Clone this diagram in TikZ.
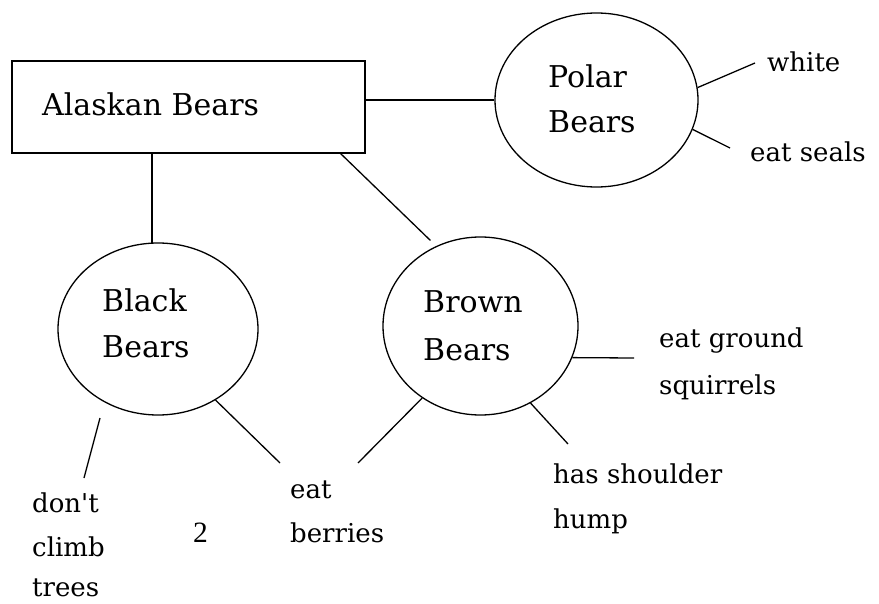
\documentclass[tikz,border=0pt]{standalone}
\usepackage{fontspec}
\setmainfont{DejaVu Serif}
\newfontfamily\timesfont{Liberation Serif}
\usetikzlibrary{shapes.geometric,calc}
\begin{document}
\begin{tikzpicture}[x=1pt,y=-1pt,
  bubble/.style={draw,ellipse,inner sep=0pt,line width=1.3pt},
  boxstyle/.style={draw,rectangle,inner sep=0pt,line width=1.8pt},
  bigtext/.style={anchor=base west,inner sep=0pt,font=\fontsize{30}{35}\selectfont},
  smalltext/.style={anchor=base west,inner sep=0pt,font=\fontsize{26}{30}\selectfont},
  link/.style={line width=1.3pt}]
\useasboundingbox (0,0) rectangle (879,604);
\fill[white] (0,0) rectangle (879,604);
% main nodes
\node[boxstyle,minimum width=353pt,minimum height=92pt] (alaskan) at (188.5,107) {};
\node[bigtext] (alaskantxt) at (42,116) {Alaskan Bears};
\node[bubble,minimum width=203pt,minimum height=174pt] (polar) at (596.5,100) {};
\node[bigtext] (polar1) at (548,88) {Polar};
\node[bigtext] (polar2) at (548,133) {Bears};
\node[bubble,minimum width=200pt,minimum height=172pt] (black) at (158,329) {};
\node[bigtext] (black1) at (102,312) {Black};
\node[bigtext] (black2) at (102,358) {Bears};
\node[bubble,minimum width=195pt,minimum height=178pt] (brown) at (480.5,326) {};
\node[bigtext] (brown1) at (423,313) {Brown};
\node[bigtext] (brown2) at (423,360) {Bears};
% leaf labels
\node[smalltext] (white) at (767,72) {white};
\node[smalltext] (seals) at (750,162) {eat seals};
\node[smalltext] (dont1) at (32,512) {don\textquotesingle t};
\node[smalltext] (dont2) at (32,556) {climb};
\node[smalltext] (dont3) at (32,596) {trees};
\node[smalltext] (berries1) at (290,498) {eat};
\node[smalltext] (berries2) at (290,542) {berries};
\node[smalltext] (ground1) at (659,348) {eat ground};
\node[smalltext] (ground2) at (659,395) {squirrels};
\node[smalltext] (hump1) at (553,483) {has shoulder};
\node[smalltext] (hump2) at (553,528) {hump};
\node[anchor=base west,inner sep=0pt,font=\timesfont\fontsize{29.5}{35}\selectfont] (num) at (193,542) {2};
% free ends of connectors
\coordinate (cwhite) at (755,63);
\coordinate (cseals) at (730,148);
\coordinate (cdont0) at (100,418);
\coordinate (cdont) at (84,478);
\coordinate (cberryL) at (280,463);
\coordinate (cberryR) at (358,463);
\coordinate (cground) at (634,358);
\coordinate (chump) at (568,444);
\coordinate (cbox) at (340,153);
% connectors
\draw[link] (alaskan.east |- polar.west) -- (polar.west);
\draw[link] (black.94 |- alaskan.south) -- (black.94);
\draw[link,shorten >=8pt] (cbox) -- (brown.119);
\draw[link] (polar.7) -- (cwhite);
\draw[link] (polar.-17) -- (cseals);
\draw[link] (cdont0) -- (cdont);
\draw[link] (black.-51) -- (cberryL);
\draw[link] (brown.231) -- (cberryR);
\draw[link] (brown.-19) -- (cground);
\draw[link] (brown.-57) -- (chump);
\end{tikzpicture}
\end{document}
